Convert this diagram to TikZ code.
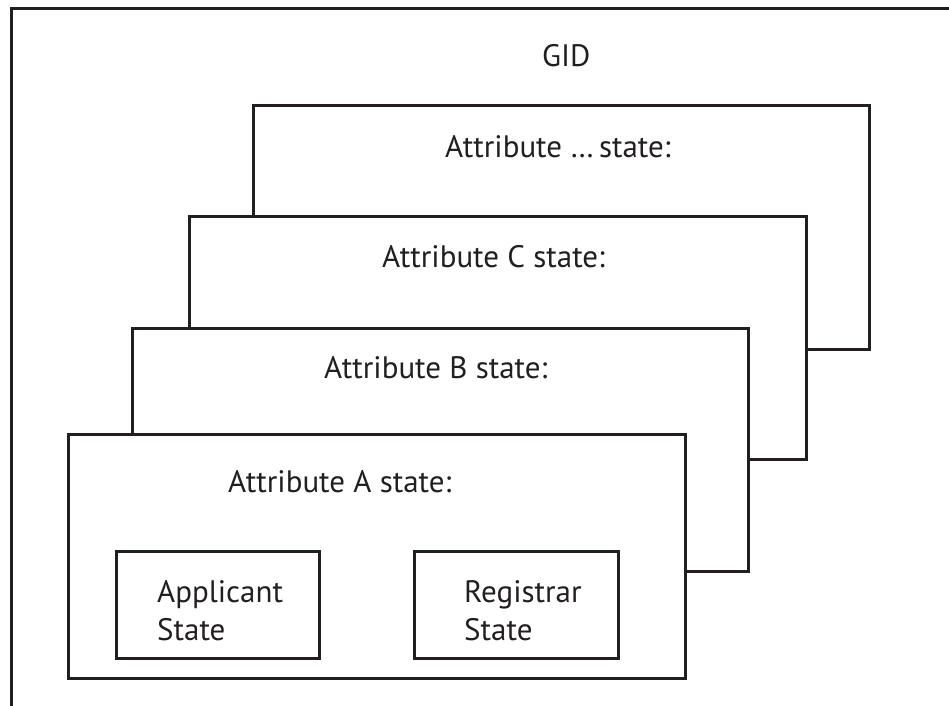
\documentclass[tikz,border=0pt]{standalone}
\usepackage{fontspec}
\setmainfont{PT Sans}
\definecolor{ink}{HTML}{231F20}
\begin{document}
\begin{tikzpicture}[x=1pt,y=-1pt,
  frame/.style={draw=ink,line width=3pt,fill=white},
  lbl/.style={anchor=base west,inner sep=0pt,text=ink,font=\fontsize{31}{38}\selectfont}]
\useasboundingbox (0,0) rectangle (949,705);
\begin{scope}
\clip (0,0) rectangle (949,705);
\draw[frame] (11,8) rectangle (950,760);
\end{scope}
\node[lbl] (gid) at (542,66) {GID};
\draw[frame] (253,105) rectangle (869,349);
\node[lbl] (ad) at (445,157) {Attribute …\,state:};
\draw[frame] (189,216) rectangle (806,459);
\node[lbl] (ac) at (382,267) {Attribute C state:};
\draw[frame] (132,328) rectangle (748,571);
\node[lbl] (ab) at (324,378) {Attribute B state:};
\draw[frame] (68,434) rectangle (685,678);
\node[lbl] (aa) at (228,492) {Attribute A state:};
\draw[frame] (116,551) rectangle (319,658);
\draw[frame] (414,551) rectangle (618,658);
\node[lbl] (app1) at (157,602) {Applicant};
\node[lbl] (app2) at (157,640) {State};
\node[lbl] (reg1) at (464,602) {Registrar};
\node[lbl] (reg2) at (464,640) {State};
\end{tikzpicture}
\end{document}
